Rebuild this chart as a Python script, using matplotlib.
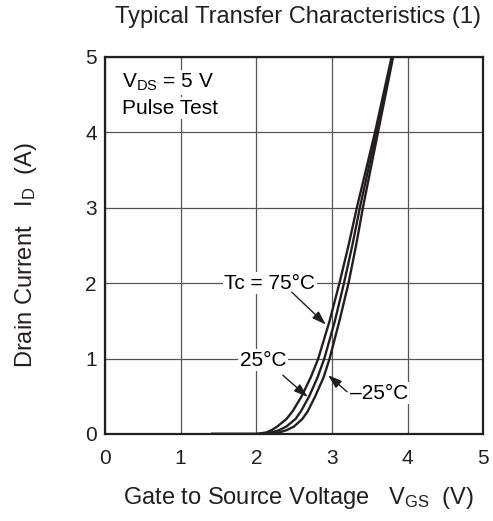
import matplotlib
matplotlib.use("Agg")
import matplotlib.pyplot as plt

plt.rcParams['font.family'] = ['Liberation Sans', 'DejaVu Sans']
plt.rcParams['mathtext.fontset'] = 'custom'
plt.rcParams['mathtext.rm'] = 'Liberation Sans'
plt.rcParams['mathtext.it'] = 'Liberation Sans'

# Data (drain current levels and gate voltages per temperature)
id_levels = [0.0, 0.0, 0.02, 0.05, 0.1, 0.2, 0.3, 0.5, 0.75, 1.0, 1.5, 2.0, 2.5, 3.0, 3.5, 4.0, 4.5, 5.0]
vgs_75 = [1.4, 2.0, 2.13, 2.2, 2.28, 2.4, 2.48, 2.6, 2.72, 2.82, 2.97, 3.1, 3.22, 3.33, 3.45, 3.57, 3.68, 3.79]
vgs_25 = [1.4, 2.05, 2.2, 2.3, 2.4, 2.52, 2.59, 2.7, 2.81, 2.9, 3.04, 3.16, 3.27, 3.37, 3.48, 3.59, 3.70, 3.80]
vgs_m25 = [1.4, 2.12, 2.3, 2.4, 2.5, 2.61, 2.68, 2.78, 2.89, 2.97, 3.1, 3.22, 3.32, 3.41, 3.51, 3.61, 3.71, 3.81]

x_ticks = [0, 1, 2, 3, 4, 5]
y_ticks = [0, 1, 2, 3, 4, 5]

FS = 15
FL = 17
fig = plt.figure(figsize=(4.93, 5.21), dpi=100)
ax = fig.add_axes([0.213, 0.167, 0.767, 0.724])

for v in (vgs_75, vgs_25, vgs_m25):
    ax.plot(v, id_levels, color='#231f20', lw=1.7, solid_capstyle='butt', zorder=3)

ax.set_xlim(0, 5)
ax.set_ylim(0, 5)
ax.set_xticks(x_ticks)
ax.set_yticks(y_ticks)
ax.grid(True, color='#555555', lw=0.9, zorder=1)
ax.tick_params(length=0, labelsize=FS, colors='#231f20')
ax.tick_params(axis='x', pad=11)
ax.tick_params(axis='y', pad=6)
for s in ax.spines.values():
    s.set_linewidth(1.6)
    s.set_color('#231f20')
ax.set_axisbelow(True)

bbox = dict(facecolor='white', edgecolor='none', pad=1.0)
ax.text(0.22, 4.66, r'$\mathrm{V}_{\mathrm{DS}}$ = 5 V', fontsize=FS, va='center', ha='left', bbox=bbox, zorder=4)
ax.text(0.22, 4.32, 'Pulse Test', fontsize=FS, va='center', ha='left', bbox=bbox, zorder=4)

arrowprops = dict(arrowstyle='-|>,head_length=0.6,head_width=0.2', color='#231f20', lw=1.0,
                  mutation_scale=14, shrinkA=0, shrinkB=0)
ax.text(2.18, 2.0, 'Tc = 75°C', fontsize=FS, ha='center', va='center', bbox=bbox, zorder=4)
ax.annotate('', xy=(2.92, 1.45), xytext=(2.47, 1.88), arrowprops=arrowprops, zorder=5)
ax.text(2.09, 0.98, '25°C', fontsize=FS, ha='center', va='center', bbox=bbox, zorder=4)
ax.annotate('', xy=(2.68, 0.49), xytext=(2.35, 0.78), arrowprops=arrowprops, zorder=5)
ax.text(3.62, 0.54, '–25°C', fontsize=FS, ha='center', va='center', bbox=bbox, zorder=4)
ax.annotate('', xy=(2.95, 0.78), xytext=(3.2, 0.56), arrowprops=arrowprops, zorder=5)

fig.text(0.605, 0.968, 'Typical Transfer Characteristics (1)', fontsize=FL, ha='center', va='center', color='#231f20')
fig.text(0.605, 0.044, r'Gate to Source Voltage   $\mathrm{V}_{\mathrm{GS}}$  (V)', fontsize=FL, ha='center', va='center', color='#231f20')
fig.text(0.052, 0.51, r'Drain Current   $\mathrm{I}_{\mathrm{D}}$  (A)', fontsize=FL, ha='center', va='center', rotation=90, color='#231f20')

fig.savefig('out.png', dpi=100)
